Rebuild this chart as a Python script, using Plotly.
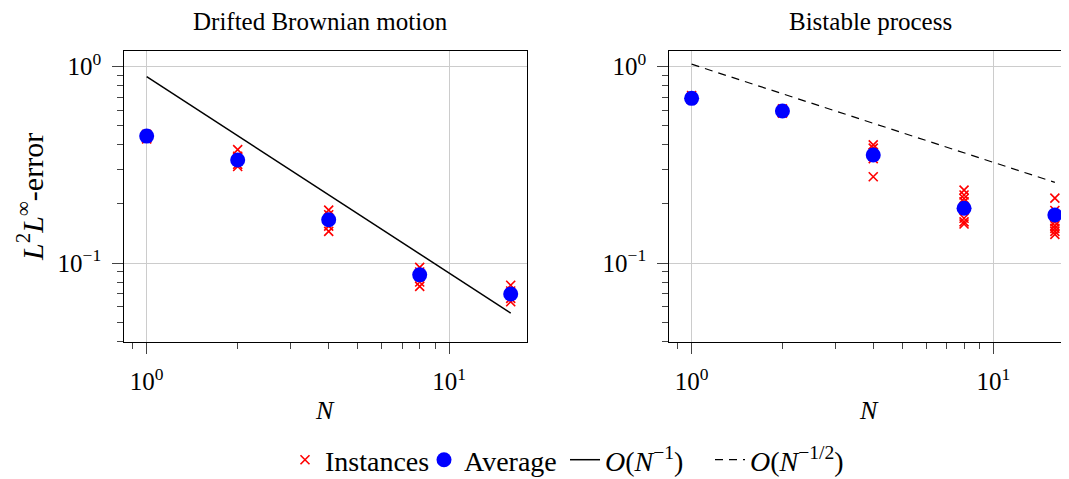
import plotly.graph_objects as go

# ---- data ----
N_vals = [1, 2, 4, 8, 16]

# Drifted Brownian motion
dbm_instances = [
    [0.452, 0.445, 0.438, 0.432, 0.428],
    [0.378, 0.350, 0.332, 0.318, 0.310],
    [0.186, 0.176, 0.165, 0.154, 0.145],
    [0.095, 0.090, 0.085, 0.080, 0.076],
    [0.077, 0.072, 0.069, 0.066, 0.0635],
]
dbm_average = [0.443, 0.335, 0.166, 0.087, 0.0695]
ref1_N = [1, 16]
ref1_vals = [0.89, 0.0556]

# Bistable process
bis_instances = [
    [0.712, 0.700, 0.690, 0.682, 0.695],
    [0.610, 0.600, 0.590, 0.580, 0.585],
    [0.400, 0.385, 0.365, 0.350, 0.340, 0.275],
    [0.235, 0.222, 0.213, 0.205, 0.190, 0.169, 0.162, 0.158],
    [0.214, 0.185, 0.175, 0.162, 0.155, 0.150, 0.145, 0.140],
]
bis_average = [0.690, 0.595, 0.355, 0.190, 0.1757]
ref2_N = [1, 16]
ref2_vals = [1.03, 0.2575]

x_tickvals = [1, 10]
x_ticktext = ["10<sup>0</sup>", "10<sup>1</sup>"]
x_minor = [0.9, 2, 3, 4, 5, 6, 7, 8, 9]
y_tickvals = [0.1, 1]
y_ticktext = ["10<sup>−1</sup>", "10<sup>0</sup>"]
y_minor = [0.04, 0.05, 0.06, 0.07, 0.08, 0.09, 0.2, 0.3, 0.4, 0.5, 0.6, 0.7, 0.8, 0.9]

titles = ["Drifted Brownian motion", "Bistable process"]
legend_names = ["Instances", "Average",
                "<i>O</i>(<i>N</i><sup>−1</sup>)",
                "<i>O</i>(<i>N</i><sup>−1/2</sup>)"]

# ---- figure ----
OFF = 8                      # page body margin
W, H = 1069 - OFF, 479 - OFF
FONT = "Liberation Serif"
FS_TICK = 25
FS_TEXT = 26

def px_x(p):
    return (p - OFF) / W

def px_y(p):
    return 1 - (p - OFF) / H

def flatten(inst):
    xs, ys = [], []
    for n, vals in zip(N_vals, inst):
        xs += [n] * len(vals)
        ys += vals
    return xs, ys

fig = go.Figure()

inst_marker = dict(symbol="x-thin", size=9, color="red", line=dict(width=1.6, color="red"))
avg_marker = dict(symbol="circle", size=15, color="#0000ff")
leg_w = [94, 96, 100, 130]

for i, (inst, avg) in enumerate([(dbm_instances, dbm_average), (bis_instances, bis_average)]):
    xa = "x" if i == 0 else "x2"
    ya = "y" if i == 0 else "y2"
    xs, ys = flatten(inst)
    fig.add_trace(go.Scatter(x=xs, y=ys, mode="markers", marker=inst_marker,
                             name=legend_names[0], legendgroup="inst", legendwidth=leg_w[0],
                             showlegend=(i == 0), xaxis=xa, yaxis=ya))
    fig.add_trace(go.Scatter(x=N_vals, y=avg, mode="markers", marker=avg_marker,
                             name=legend_names[1], legendgroup="avg", legendwidth=leg_w[1],
                             showlegend=(i == 0), xaxis=xa, yaxis=ya))

fig.add_trace(go.Scatter(x=ref1_N, y=ref1_vals, mode="lines",
                         line=dict(color="black", width=1.5), legendwidth=leg_w[2],
                         name=legend_names[2], xaxis="x", yaxis="y"))
fig.add_trace(go.Scatter(x=ref2_N, y=ref2_vals, mode="lines",
                         line=dict(color="black", width=1.2, dash="8px,6px"), legendwidth=leg_w[3],
                         name=legend_names[3], xaxis="x2", yaxis="y2"))

ydom = [px_y(342.3), px_y(51)]
xdom1 = [px_x(124.3), px_x(526.7)]
xdom2 = [px_x(669.3), 1.0]

tickfont = dict(family=FONT, size=FS_TICK, color="black")
common_x = dict(type="log", tickvals=x_tickvals, ticktext=x_ticktext,
                ticks="outside", ticklen=11, tickwidth=1, tickcolor="#444",
                minor=dict(tickvals=x_minor, ticks="outside", ticklen=6,
                           tickwidth=1, tickcolor="#444", showgrid=False),
                showgrid=True, gridcolor="#cccccc", gridwidth=1,
                showline=True, linecolor="black", linewidth=1.2,
                zeroline=False, tickfont=tickfont, ticklabelstandoff=6)
common_y = dict(type="log", tickvals=y_tickvals, ticktext=y_ticktext,
                ticks="outside", ticklen=11, tickwidth=1, tickcolor="#444",
                minor=dict(tickvals=y_minor, ticks="outside", ticklen=6,
                           tickwidth=1, tickcolor="#444", showgrid=False),
                showgrid=True, gridcolor="#cccccc", gridwidth=1,
                showline=True, linecolor="black", linewidth=1.2,
                zeroline=False, tickfont=tickfont, ticklabelstandoff=6,
                range=[-1.404, 0.08])

fig.update_layout(
    width=W, height=H,
    margin=dict(l=0, r=0, t=0, b=0, autoexpand=False),
    paper_bgcolor="white", plot_bgcolor="white",
    font=dict(family=FONT, size=FS_TEXT, color="black"),
    xaxis=dict(common_x, domain=xdom1, range=[-0.074, 1.257], anchor="y", mirror=True),
    yaxis=dict(common_y, domain=ydom, anchor="x", mirror=True),
    xaxis2=dict(common_x, domain=xdom2, range=[-0.074, 1.251], anchor="y2", mirror=True),
    yaxis2=dict(common_y, domain=ydom, anchor="x2", mirror=False),
    showlegend=True,
    legend=dict(orientation="h", x=px_x(285), xanchor="left",
                y=px_y(460), yanchor="middle",
                font=dict(family=FONT, size=28, color="black"),
                itemsizing="trace", tracegroupgap=0, itemwidth=30,
                bgcolor="rgba(0,0,0,0)"),
)

annos = [
    dict(text=titles[0], x=px_x(320), y=px_y(22), size=25),
    dict(text=titles[1], x=px_x(870), y=px_y(22), size=25),
    dict(text="<i>N</i>", x=px_x(325), y=px_y(410), size=26),
    dict(text="<i>N</i>", x=px_x(869), y=px_y(410), size=26),
    dict(text="<i>L</i><sup>2</sup><i>L</i><sup>∞</sup>-error", x=px_x(30), y=px_y(197),
         textangle=-90, size=30),
]
for a in annos:
    s = a.pop("size")
    fig.add_annotation(xref="paper", yref="paper", xanchor="center", yanchor="middle",
                       showarrow=False, font=dict(family=FONT, size=s, color="black"), **a)

fig.write_html("out.html")
